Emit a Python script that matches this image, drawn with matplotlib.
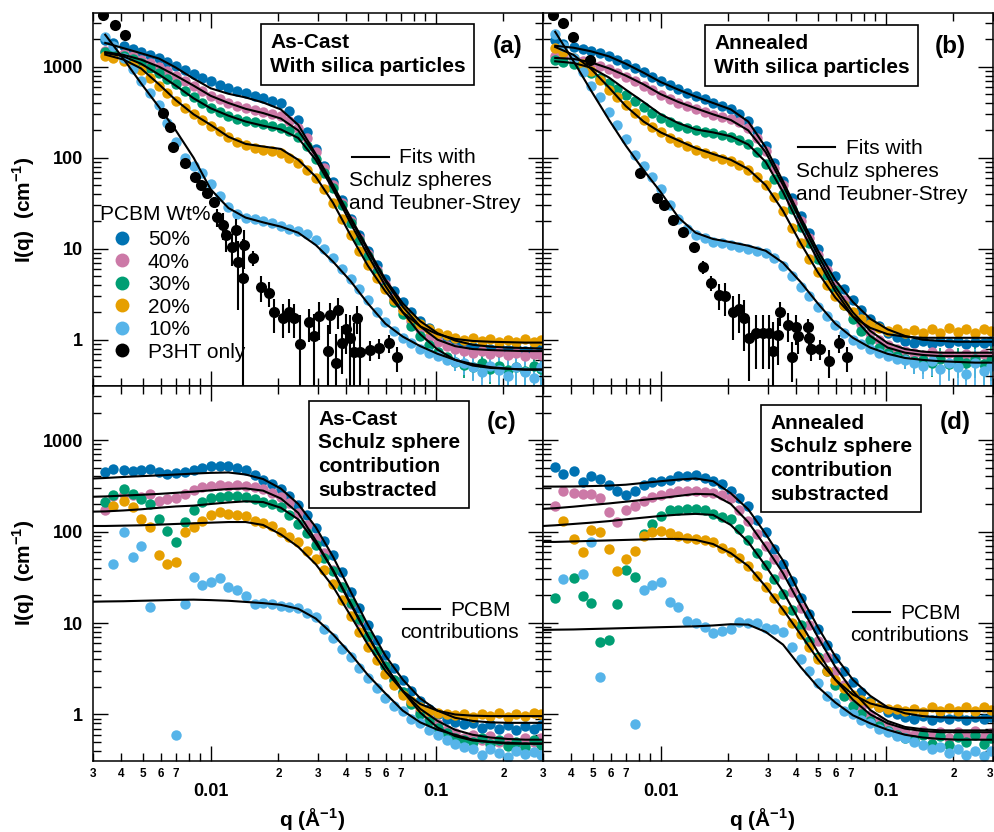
import numpy as np
import matplotlib
matplotlib.use("Agg")
import matplotlib.pyplot as plt
from matplotlib.lines import Line2D
from matplotlib.ticker import LogLocator, NullFormatter

plt.rcParams['font.family'] = ['Liberation Sans', 'DejaVu Sans']
plt.rcParams['mathtext.fontset'] = 'custom'
plt.rcParams['mathtext.rm'] = 'Liberation Sans'
plt.rcParams['mathtext.bf'] = 'Liberation Sans:bold'

nan = np.nan

# ---- common q grids ----
Q = [0.0034, 0.0037, 0.0041, 0.0045, 0.0049, 0.0054, 0.0059, 0.0064, 0.0070, 0.0077,
     0.0084, 0.0092, 0.0100, 0.0110, 0.0120, 0.0131, 0.0143, 0.0157, 0.0171, 0.0187,
     0.0205, 0.0224, 0.0245, 0.0268, 0.0293, 0.0320, 0.0350, 0.0383, 0.0419, 0.0458,
     0.0500, 0.0547, 0.0598, 0.0654, 0.0715, 0.0781, 0.0854, 0.0934, 0.102, 0.112,
     0.122, 0.134, 0.146, 0.160, 0.175, 0.191, 0.209, 0.228, 0.250, 0.273, 0.295]
Q_FIT = [0.0034, 0.0041, 0.0049, 0.0059, 0.0070, 0.0084, 0.0100, 0.0120, 0.0143, 0.0171,
         0.0205, 0.0245, 0.0293, 0.0350, 0.0419, 0.0500, 0.0598, 0.0715, 0.0854, 0.102,
         0.122, 0.146, 0.175, 0.209, 0.250, 0.295]
Q_FIT_CD = [0.0030, 0.0034, 0.0041, 0.0049, 0.0059, 0.0070, 0.0084, 0.0100, 0.0120, 0.0143,
            0.0171, 0.0205, 0.0245, 0.0293, 0.0350, 0.0419, 0.0500, 0.0598, 0.0715, 0.0854,
            0.102, 0.122, 0.146, 0.175, 0.209, 0.250, 0.295]
# high-q points that carry visible error bars in (a) and (b)
Q_TAIL = [0.122, 0.134, 0.146, 0.160, 0.175, 0.191, 0.209, 0.228, 0.250, 0.273, 0.295]

# ---- (a) as-cast with silica ----
A50 = [1980, 1830, 1700, 1560, 1460, 1350, 1250, 1130, 1030, 930,
       840, 760, 690, 630, 580, 545, 510, 480, 450, 425,
       395, 330, 260, 190, 125, 82, 54, 34, 21, 14,
       9.5, 6.6, 4.7, 3.4, 2.6, 2.0, 1.6, 1.35, 1.15, 1.02,
       0.95, 0.88, 0.84, 0.86, 0.80, 0.84, 0.78, 0.82, 0.76, 0.80, 0.79]
A40 = [1500, 1450, 1380, 1300, 1200, 1100, 1000, 900, 800, 700,
       620, 540, 480, 440, 400, 375, 355, 335, 320, 305,
       285, 255, 215, 165, 115, 78, 50, 32, 20, 13,
       8.8, 5.9, 4.1, 2.9, 2.1, 1.6, 1.3, 1.08, 0.94, 0.85,
       0.80, 0.76, 0.72, 0.75, 0.70, 0.73, 0.68, 0.72, 0.66, 0.70, 0.68]
A30 = [1450, 1400, 1320, 1230, 1100, 980, 850, 740, 640, 540,
       460, 400, 355, 320, 290, 270, 255, 245, 235, 225,
       210, 195, 168, 135, 98, 68, 46, 30, 19, 12.5,
       8.3, 5.6, 3.8, 2.6, 1.9, 1.4, 1.1, 0.88, 0.74, 0.64,
       0.57, 0.53, 0.50, 0.55, 0.48, 0.52, 0.47, 0.50, 0.45, 0.52, 0.48]
A20 = [1300, 1260, 1160, 1050, 920, 760, 620, 510, 420, 350,
       300, 260, 225, 195, 170, 150, 138, 128, 122, 118,
       112, 100, 88, 74, 60, 45, 32, 21, 14, 9.5,
       6.6, 4.8, 3.6, 2.7, 2.1, 1.75, 1.5, 1.3, 1.2, 1.12,
       1.05, 1.0, 1.04, 0.96, 1.02, 0.95, 1.0, 0.94, 1.02, 0.95, 1.0]
A10 = [2100, 1700, 1250, 950, 700, 520, 380, 240, 150, 100,
       82, 68, 52, 38, 29, 24, 22, 21, 20, 19,
       18, 16.5, 15.5, 14.5, 12.5, 10, 8, 6, 4.6, 3.6,
       2.7, 2.0, 1.55, 1.25, 1.05, 0.92, 0.80, 0.72, 0.66, 0.60,
       0.57, 0.55, 0.50, 0.44, 0.52, 0.46, 0.40, 0.50, 0.44, 0.38, 0.50]
A30_TAIL_ERR = [0.12, 0.15, 0.14, 0.18, 0.15, 0.2, 0.16, 0.2, 0.17, 0.22, 0.2]
A10_TAIL_ERR = [0.12, 0.14, 0.15, 0.16, 0.18, 0.17, 0.2, 0.2, 0.22, 0.2, 0.24]
A50_FIT = [1830, 1600, 1410, 1230, 980, 740, 580, 505, 460, 405, 340, 230, 110,
           50, 22, 10, 4.6, 2.5, 1.6, 1.18, 0.98, 0.88, 0.84, 0.82, 0.81, 0.80]
A40_FIT = [1450, 1350, 1200, 1000, 800, 620, 480, 400, 345, 310, 270, 200, 105,
           48, 21, 9.5, 4.4, 2.3, 1.4, 1.0, 0.85, 0.79, 0.77, 0.76, 0.75, 0.75]
A30_FIT = [1420, 1300, 1080, 820, 620, 450, 350, 290, 250, 225, 205, 165, 95,
           45, 19, 8.5, 3.9, 2.0, 1.15, 0.78, 0.60, 0.52, 0.49, 0.48, 0.47, 0.47]
A20_FIT = [1360, 1200, 960, 640, 430, 300, 230, 170, 142, 133, 125, 95, 62,
           32, 14, 6.5, 3.4, 2.0, 1.4, 1.15, 1.02, 0.97, 0.95, 0.94, 0.93, 0.93]
A10_FIT = [2250, 1220, 660, 360, 200, 100, 45, 28, 22, 19.5, 17.5, 15, 11,
           7.2, 4.4, 2.5, 1.5, 1.08, 0.85, 0.70, 0.60, 0.54, 0.50, 0.48, 0.47, 0.47]
A_P3HT_Q = [0.00333, 0.00376, 0.00417, 0.00616, 0.00662, 0.00683, 0.00773, 0.0085, 0.0091, 0.00968,
            0.0103, 0.0107, 0.0113, 0.0117, 0.0125, 0.0129, 0.0132, 0.0139, 0.0140, 0.0155,
            0.0167, 0.0181, 0.0191, 0.0209, 0.0223, 0.0235, 0.0249, 0.0274, 0.0288, 0.0303,
            0.0333, 0.0340, 0.0361, 0.0369, 0.0384, 0.0400, 0.0418, 0.0435, 0.0449, 0.0463,
            0.0512, 0.0562, 0.0622, 0.0676]
A_P3HT_I = [3730, 2890, 2250, 312, 219, 132, 88, 62, 50, 41,
            33, 22.5, 18.4, 14.2, 10.5, 16.2, 7.1, 4.8, 11, 8.0,
            3.8, 3.3, 2.0, 1.75, 2.0, 1.75, 0.89, 1.55, 1.1, 1.8,
            0.75, 1.86, 0.56, 2.1, 0.92, 1.3, 1.05, 0.73, 1.75, 0.73,
            0.78, 0.81, 0.92, 0.64]
A_P3HT_ERR = [0, 0, 0, 0, 0, 0, 0, 0, 0, 3,
              4, 5, 6, 5, 4, 5, 5, 8, 5, 1.5,
              1.2, 1.0, 0.8, 0.7, 0.8, 0.7, 1.0, 0.6, 0.8, 0.8,
              0.7, 0.7, 0.6, 0.8, 0.5, 0.6, 0.8, 0.8, 0.6, 0.8,
              0.2, 0.2, 0.2, 0.2]

# ---- (b) annealed with silica ----
B50 = [1980, 1800, 1660, 1560, 1480, 1400, 1300, 1180, 1080, 970,
       870, 780, 700, 630, 570, 520, 480, 440, 400, 370,
       340, 305, 255, 195, 135, 88, 56, 36, 23, 15,
       10, 7.0, 5.0, 3.6, 2.7, 2.1, 1.7, 1.4, 1.2, 1.08,
       0.98, 0.93, 0.97, 0.90, 0.96, 0.92, 0.98, 0.90, 0.95, 0.93, 0.96]
B40 = [1300, 1270, 1230, 1170, 1100, 1020, 940, 860, 780, 700,
       620, 550, 490, 440, 400, 370, 340, 315, 295, 280,
       265, 245, 210, 165, 118, 78, 50, 32, 20, 13,
       8.6, 5.8, 3.9, 2.7, 1.95, 1.5, 1.2, 1.0, 0.88, 0.80,
       0.76, 0.72, 0.68, 0.74, 0.66, 0.72, 0.65, 0.70, 0.64, 0.70, 0.66]
B30 = [1190, 1140, 1060, 960, 860, 760, 660, 570, 490, 420,
       360, 310, 275, 245, 225, 210, 200, 192, 185, 178,
       170, 158, 140, 115, 85, 58, 40, 27, 17.5, 11.5,
       7.8, 5.2, 3.5, 2.4, 1.7, 1.25, 1.0, 0.82, 0.72, 0.66,
       0.62, 0.58, 0.60, 0.55, 0.62, 0.54, 0.60, 0.55, 0.62, 0.54, 0.60]
B20 = [1620, 1450, 1250, 1080, 900, 720, 560, 460, 380, 310,
       260, 220, 190, 165, 150, 135, 122, 112, 104, 98,
       92, 84, 74, 62, 50, 37, 26, 17, 11.5, 7.8,
       5.5, 4.0, 3.0, 2.4, 2.0, 1.7, 1.5, 1.35, 1.25, 1.30,
       1.20, 1.28, 1.18, 1.30, 1.20, 1.35, 1.22, 1.30, 1.18, 1.32, 1.25]
B10 = [2300, 1700, 1250, 880, 620, 470, 320, 230, 160, 108,
       82, 62, 45, 30, 21, 16.5, 14, 13, 12, 11.5,
       11, 10.5, 10, 9.5, 9, 8, 6.5, 5, 3.8, 3.0,
       2.3, 1.8, 1.45, 1.2, 1.0, 0.90, 0.80, 0.72, 0.66, 0.62,
       0.60, 0.56, 0.52, 0.58, 0.48, 0.55, 0.50, 0.42, 0.55, 0.45, 0.52]
B30_TAIL_ERR = [0.14, 0.16, 0.18, 0.16, 0.2, 0.18, 0.22, 0.2, 0.24, 0.22, 0.25]
B10_TAIL_ERR = [0.12, 0.14, 0.15, 0.18, 0.16, 0.2, 0.2, 0.18, 0.24, 0.22, 0.24]
B50_FIT = [1700, 1620, 1480, 1300, 1080, 860, 680, 560, 470, 400, 340, 250, 130,
           55, 22, 9.5, 4.5, 2.6, 1.7, 1.3, 1.1, 1.0, 0.97, 0.95, 0.95, 0.95]
B40_FIT = [1250, 1220, 1120, 960, 800, 640, 500, 410, 350, 300, 260, 200, 115,
           50, 20, 8.5, 3.8, 2.0, 1.25, 0.92, 0.79, 0.74, 0.72, 0.72, 0.72, 0.72]
B30_FIT = [1150, 1100, 980, 760, 560, 410, 300, 240, 205, 190, 172, 140, 90,
           42, 17, 7.5, 3.4, 1.8, 1.1, 0.82, 0.72, 0.68, 0.66, 0.66, 0.66, 0.66]
B20_FIT = [1650, 1350, 950, 590, 370, 250, 190, 155, 128, 110, 95, 75, 50,
           26, 11.5, 5.5, 2.9, 1.8, 1.35, 1.15, 1.08, 1.05, 1.05, 1.05, 1.05, 1.05]
B10_FIT = [2420, 1150, 550, 260, 136, 73, 42, 22, 15, 12.8, 11.8, 10.8, 9.5,
           7.0, 4.3, 2.5, 1.5, 1.05, 0.82, 0.70, 0.63, 0.60, 0.58, 0.57, 0.56, 0.56]
B_P3HT_Q = [0.00333, 0.00369, 0.00408, 0.00486, 0.00813, 0.00968, 0.0103, 0.0114, 0.0126, 0.0140,
            0.0154, 0.0167, 0.0181, 0.0194, 0.0209, 0.0223, 0.0235, 0.0247, 0.0264, 0.0284,
            0.0303, 0.0315, 0.0333, 0.0340, 0.0369, 0.0384, 0.0400, 0.0409, 0.0453, 0.0458,
            0.0466, 0.0512, 0.0562, 0.0622, 0.0676]
B_P3HT_I = [3730, 3050, 2130, 1190, 68, 36.5, 30, 20.9, 15.3, 10.5,
            6.3, 4.2, 3.1, 3.0, 2.0, 2.2, 1.75, 1.05, 1.18, 1.18,
            1.18, 0.75, 1.13, 2.0, 1.45, 0.64, 1.37, 1.1, 1.37, 1.05,
            0.79, 0.80, 0.58, 0.92, 0.64]
B_P3HT_ERR = [0, 0, 0, 0, 0, 0, 0, 0, 0, 0,
              1.0, 0.8, 1.0, 1.2, 1.0, 1.0, 1.0, 0.7, 0.7, 0.7,
              0.7, 0.8, 0.6, 0.6, 0.5, 0.3, 0.5, 0.4, 0.3, 0.3,
              0.2, 0.2, 0.2, 0.2, 0.2]

# ---- (c) as-cast, Schulz sphere contribution substracted ----
C50 = [450, 480, 470, 460, 465, 480, 450, 430, 435, 450,
       470, 500, 515, 525, 520, 500, 470, 420, 370, 330,
       290, 245, 195, 150, 108, 78, 55, 36, 22, 14.5,
       9.5, 6.5, 4.5, 3.2, 2.4, 1.8, 1.4, 1.15, 1.0, 0.90,
       0.82, 0.78, 0.80, 0.72, 0.78, 0.70, 0.76, 0.68, 0.74, 0.70, 0.76]
C40 = [170, 245, 255, 250, 240, 255, 215, 225, 235, 260,
       285, 305, 315, 320, 318, 320, 318, 305, 290, 265,
       240, 205, 160, 118, 85, 58, 38, 25, 16, 10.5,
       7.0, 4.8, 3.4, 2.4, 1.75, 1.35, 1.08, 0.90, 0.78, 0.68,
       0.62, 0.56, 0.60, 0.52, 0.58, 0.50, 0.56, 0.48, 0.55, 0.50, 0.55]
C30 = [210, 250, 295, 260, 225, 202, 138, 101, 77, 127,
       170, 212, 230, 241, 247, 244, 238, 228, 212, 198,
       185, 150, 122, 96, 72, 52, 37, 25, 16.5, 11,
       7.3, 4.9, 3.4, 2.4, 1.75, 1.3, 1.02, 0.84, 0.72, 0.62,
       0.56, 0.52, 0.50, 0.55, 0.47, 0.52, 0.45, 0.50, 0.44, 0.52, 0.46]
C20 = [nan, 191, 217, 187, 138, 112, 56, 44, 46, 99,
       112, 131, 150, 164, 156, 152, 149, 131, 123, 115,
       99, 88, 77, 62, 50, 38, 27, 18, 12, 8.0,
       5.5, 3.9, 2.8, 2.1, 1.65, 1.4, 1.22, 1.1, 1.05, 1.0,
       0.98, 1.02, 0.95, 1.0, 0.96, 1.04, 0.95, 1.02, 0.97, 1.05, 1.0]
C10 = [nan, 44, 99, 53, 70, 15, nan, nan, 0.6, 16,
       32, 26, 28, 31, 25, 23, 19.5, 16, 16.5, 16,
       15.5, 15, 14.5, 13, 11.5, 8.6, 6.8, 5.2, 4.2, 3.2,
       2.5, 1.95, 1.5, 1.25, 1.08, 0.90, 0.80, 0.68, 0.60, 0.52,
       0.47, 0.44, 0.42, 0.36, 0.42, 0.38, 0.34, 0.40, 0.37, 0.39, 0.36]
C50_FIT = [380, 385, 395, 403, 411, 420, 430, 438, 442, 420, 375, 295, 200, 112,
           53, 22, 9.5, 4.4, 2.4, 1.5, 1.1, 0.92, 0.85, 0.82, 0.81, 0.81, 0.81]
C40_FIT = [240, 242, 247, 252, 258, 265, 273, 282, 292, 296, 280, 230, 160, 80,
           37, 16, 7.2, 3.4, 1.8, 1.15, 0.85, 0.68, 0.60, 0.56, 0.54, 0.53, 0.53]
C30_FIT = [165, 166, 170, 175, 182, 188, 192, 200, 208, 214, 210, 182, 136, 75,
           38, 16.5, 7.3, 3.4, 1.8, 1.05, 0.72, 0.58, 0.52, 0.50, 0.48, 0.48, 0.48]
C20_FIT = [115, 115, 116, 117, 119, 121, 123, 125, 127, 127, 118, 93, 68, 44,
           25, 12, 5.8, 3.0, 1.8, 1.3, 1.1, 1.0, 0.97, 0.96, 0.96, 0.96, 0.96]
C10_FIT = [17.1, 17.2, 17.3, 17.5, 17.7, 17.9, 18.0, 17.8, 17.5, 17.0, 16.5, 15.8, 14.3, 11.2,
           7.5, 4.6, 2.7, 1.7, 1.1, 0.82, 0.68, 0.60, 0.53, 0.50, 0.49, 0.48, 0.48]

# ---- (d) annealed, Schulz sphere contribution substracted ----
D50 = [510, 430, 460, 350, 400, 380, 320, 275, 250, 280,
       320, 350, 355, 362, 400, 408, 411, 385, 360, 330,
       275, 235, 191, 135, 100, 65, 44, 29, 19, 12.5,
       8.5, 5.8, 4.1, 3.0, 2.25, 1.75, 1.4, 1.2, 1.06, 1.0,
       0.94, 0.90, 0.96, 0.88, 0.94, 0.90, 0.97, 0.88, 0.95, 0.90, 0.94]
D40 = [190, 280, 262, 258, 255, 230, 164, 127, 170, 191,
       217, 241, 252, 262, 275, 280, 278, 273, 262, 250,
       232, 170, 130, 95, 70, 50, 34, 22, 14.5, 9.5,
       6.4, 4.3, 3.0, 2.1, 1.55, 1.2, 0.98, 0.84, 0.74, 0.68,
       0.64, 0.60, 0.66, 0.58, 0.65, 0.56, 0.64, 0.58, 0.66, 0.57, 0.63]
D30 = [19, nan, 31, 19.5, 16.5, 6.2, 6.6, 16, 38, 32,
       94, 122, 148, 170, 174, 177, 175, 170, 156, 146,
       138, 107, 80, 58, 43, 30, 21, 14, 9.5, 6.3,
       4.3, 3.0, 2.1, 1.6, 1.25, 1.0, 0.85, 0.74, 0.66, 0.60,
       0.56, 0.52, 0.60, 0.48, 0.58, 0.46, 0.57, 0.50, 0.60, 0.47, 0.55]
D20 = [nan, 130, 83, 59, 105, 100, 64, 37, 50, 61,
       89, 99, 101, 97, 89, 86, 83, 80, 77, 66,
       60, 52, 42, 33, 25, 19, 14, 10, 7.5, 5.5,
       4.0, 3.0, 2.4, 1.95, 1.65, 1.45, 1.32, 1.22, 1.16, 1.14,
       1.08, 1.15, 1.06, 1.20, 1.10, 1.18, 1.08, 1.20, 1.10, 1.22, 1.12]
D10 = [nan, 30, nan, 34, 77, 2.6, nan, nan, nan, 0.79,
       23, 26, 28, 17, 15, 10.5, 10, 9.0, 7.8, 8.2,
       8.5, 10.2, 10, 10, 8.9, 8.5, 8.0, 5.5, 4.0, 3.0,
       2.2, 1.6, 1.35, 1.1, 1.0, 0.88, 0.80, 0.70, 0.64, 0.58,
       0.55, 0.50, 0.46, 0.42, 0.44, 0.38, 0.42, 0.36, 0.40, 0.35, 0.40]
D50_FIT = [310, 310, 311, 314, 318, 325, 340, 355, 370, 380, 355, 262, 175, 94,
           48, 20, 9.0, 4.3, 2.4, 1.6, 1.2, 1.03, 0.96, 0.93, 0.92, 0.92, 0.92]
D40_FIT = [177, 180, 187, 195, 203, 212, 222, 232, 245, 258, 255, 200, 127, 68,
           35, 15.5, 7.0, 3.3, 1.8, 1.12, 0.85, 0.73, 0.69, 0.67, 0.67, 0.67, 0.67]
D30_FIT = [115, 117, 121, 125, 130, 136, 142, 148, 153, 156, 152, 118, 77, 42,
           22, 10, 4.8, 2.4, 1.45, 1.0, 0.80, 0.70, 0.66, 0.64, 0.64, 0.64, 0.64]
D20_FIT = [77, 77, 78, 79, 80, 81, 82, 83, 83, 81, 73, 58, 42, 25,
           14, 7.5, 4.0, 2.4, 1.65, 1.32, 1.18, 1.12, 1.10, 1.09, 1.09, 1.09, 1.09]
D10_FIT = [8.4, 8.45, 8.5, 8.6, 8.7, 8.8, 8.9, 9.0, 9.1, 9.2, 9.4, 9.7, 9.6, 8.0,
           5.8, 3.3, 2.0, 1.35, 0.98, 0.80, 0.68, 0.60, 0.56, 0.54, 0.53, 0.53, 0.53]

COLORS = ['#0072B2', '#CC79A7', '#009E73', '#E69F00', '#56B4E9']
LEGEND_LABELS = ['50%', '40%', '30%', '20%', '10%', 'P3HT only']

X_MAJOR = [0.01, 0.1]
X_MAJOR_LABELS = ['0.01', '0.1']
X_MINOR = [0.003, 0.004, 0.005, 0.006, 0.007, 0.008, 0.009,
           0.02, 0.03, 0.04, 0.05, 0.06, 0.07, 0.08, 0.09, 0.2, 0.3]
X_MINOR_LABELS = ['3', '4', '5', '6', '7', '', '',
                  '2', '3', '4', '5', '6', '7', '', '', '2', '3']
Y_MAJOR = [1, 10, 100, 1000]
Y_MAJOR_LABELS = ['1', '10', '100', '1000']

W, H = 994, 832
fig = plt.figure(figsize=(W / 100, H / 100), dpi=100)


def px_axes(x0, y0, x1, y1):
    return fig.add_axes([x0 / W, 1 - y1 / H, (x1 - x0) / W, (y1 - y0) / H])


def ftext(x, y, s, **kw):
    return fig.text(x / W, 1 - y / H, s, **kw)


def style(ax, bottom, left):
    ax.set_xscale('log')
    ax.set_yscale('log')
    ax.set_xticks(X_MAJOR, X_MAJOR_LABELS if bottom else [''] * 2,
                  fontsize=13, fontweight='bold')
    minor_labels = list(X_MINOR_LABELS) if bottom else [''] * len(X_MINOR)
    if not left:
        minor_labels[0] = ''
    ax.set_xticks(X_MINOR, minor_labels, minor=True, fontsize=8.5, fontweight='bold')
    ax.set_yticks(Y_MAJOR, Y_MAJOR_LABELS if left else [''] * 4,
                  fontsize=13, fontweight='bold')
    ax.yaxis.set_minor_locator(LogLocator(base=10, subs=(2, 3, 4, 5, 6, 7, 8, 9)))
    ax.yaxis.set_minor_formatter(NullFormatter())
    ax.set_xlim(0.003, 0.3)
    ax.set_ylim(0.31, 3900)
    ax.tick_params(which='both', direction='in', top=True, right=True, width=1)
    ax.tick_params(which='major', length=11)
    ax.tick_params(which='minor', length=5.5)
    ax.tick_params(axis='x', which='major', pad=15.5)
    ax.tick_params(axis='x', which='minor', pad=5)
    ax.tick_params(axis='y', which='major', pad=7)
    for sp in ax.spines.values():
        sp.set_linewidth(1.1)


def draw(ax, series, fits, q_fit):
    for color, vals in zip(COLORS, series):
        ax.plot(Q, vals, 'o', color=color, ms=7.5, mew=0, zorder=2)
    for vals in fits:
        ax.plot(q_fit, vals, '-', color='black', lw=1.5, zorder=4)


def tail_errors(ax, color, vals, err):
    ax.errorbar(Q_TAIL, vals[-len(Q_TAIL):], yerr=err, fmt='none', ecolor=color,
                elinewidth=1.3, capsize=0, zorder=1.5)


ax_a = px_axes(93, 13, 543, 386)
ax_b = px_axes(543, 13, 993, 386)
ax_c = px_axes(93, 386, 543, 761)
ax_d = px_axes(543, 386, 993, 761)

tail_errors(ax_a, COLORS[2], A30, A30_TAIL_ERR)
tail_errors(ax_a, COLORS[4], A10, A10_TAIL_ERR)
tail_errors(ax_b, COLORS[2], B30, B30_TAIL_ERR)
tail_errors(ax_b, COLORS[4], B10, B10_TAIL_ERR)
draw(ax_a, [A50, A40, A30, A20, A10], [A50_FIT, A40_FIT, A30_FIT, A20_FIT, A10_FIT], Q_FIT)
ax_a.errorbar(A_P3HT_Q, A_P3HT_I, yerr=A_P3HT_ERR, fmt='o', color='black', ms=8,
              mew=0, elinewidth=1.5, capsize=0, zorder=3)
draw(ax_b, [B50, B40, B30, B20, B10], [B50_FIT, B40_FIT, B30_FIT, B20_FIT, B10_FIT], Q_FIT)
ax_b.errorbar(B_P3HT_Q, B_P3HT_I, yerr=B_P3HT_ERR, fmt='o', color='black', ms=8,
              mew=0, elinewidth=1.5, capsize=0, zorder=3)
draw(ax_c, [C50, C40, C30, C20, C10], [C50_FIT, C40_FIT, C30_FIT, C20_FIT, C10_FIT], Q_FIT_CD)
draw(ax_d, [D50, D40, D30, D20, D10], [D50_FIT, D40_FIT, D30_FIT, D20_FIT, D10_FIT], Q_FIT_CD)

style(ax_a, bottom=False, left=True)
style(ax_b, bottom=False, left=False)
style(ax_c, bottom=True, left=True)
style(ax_d, bottom=True, left=False)
# keep the last minor label of the right panel inside the figure
ax_d.get_xticklabels(minor=True)[-1].set_horizontalalignment('right')

# legend in panel (a)
handles = [Line2D([], [], ls='none', marker='o', ms=10, mew=0, color=c) for c in COLORS]
handles.append(Line2D([], [], ls='none', marker='o', ms=10, mew=0, color='black'))
ftext(100, 220, 'PCBM Wt%', fontsize=15, va='baseline')
ax_a.legend(handles, LEGEND_LABELS, loc='upper left',
            bbox_to_anchor=(100 / W, 1 - 230 / H), bbox_transform=fig.transFigure,
            frameon=False, fontsize=15, borderpad=0, borderaxespad=0,
            handlelength=2.1, handletextpad=0.2, labelspacing=0.17)

# boxed panel titles
box = dict(boxstyle='square,pad=0.42', fc='white', ec='black', lw=1.2)
ftext(270, 33, 'As-Cast\nWith silica particles', fontsize=15, fontweight='bold',
      va='top', ha='left', bbox=box, linespacing=1.32, zorder=10)
ftext(714, 34, 'Annealed\nWith silica particles', fontsize=15, fontweight='bold',
      va='top', ha='left', bbox=box, linespacing=1.32, zorder=10)
ftext(318, 410, 'As-Cast\nSchulz sphere\ncontribution\nsubstracted', fontsize=15,
      fontweight='bold', va='top', ha='left', bbox=box, linespacing=1.3, zorder=10)
ftext(770, 414, 'Annealed\nSchulz sphere\ncontribution\nsubstracted', fontsize=15,
      fontweight='bold', va='top', ha='left', bbox=box, linespacing=1.3, zorder=10)

for x, y, s in [(508, 47, '(a)'), (950, 47, '(b)'), (502, 422, '(c)'), (955, 423, '(d)')]:
    ftext(x, y, s, fontsize=17.5, fontweight='bold', ha='center', va='center')

# fit annotations
for x0, y0 in [(352, 157), (798, 147), (403, 609), (853, 612)]:
    fig.add_artist(Line2D([x0 / W, (x0 + 37) / W], [1 - y0 / H, 1 - y0 / H],
                          transform=fig.transFigure, color='black', lw=1.5))
ftext(399, 163, 'Fits with', fontsize=15, va='baseline')
ftext(349, 186, 'Schulz spheres', fontsize=15, va='baseline')
ftext(349, 209, 'and Teubner-Strey', fontsize=15, va='baseline')
ftext(846, 154, 'Fits with', fontsize=15, va='baseline')
ftext(796, 177, 'Schulz spheres', fontsize=15, va='baseline')
ftext(796, 200, 'and Teubner-Strey', fontsize=15, va='baseline')
ftext(450, 616, 'PCBM', fontsize=15, va='baseline')
ftext(400, 638, 'contributions', fontsize=15, va='baseline')
ftext(900, 619, 'PCBM', fontsize=15, va='baseline')
ftext(850, 641, 'contributions', fontsize=15, va='baseline')

# axis labels
ylab = r'I(q)  (cm$^{\mathbf{-1}}$)'
ftext(24, 210, ylab, fontsize=15, fontweight='bold', rotation=90, ha='center', va='center')
ftext(24, 573, ylab, fontsize=15, fontweight='bold', rotation=90, ha='center', va='center')
xlab = r'q (Å$^{\mathbf{-1}}$)'
ftext(312, 820, xlab, fontsize=15, fontweight='bold', ha='center', va='center')
ftext(762, 820, xlab, fontsize=15, fontweight='bold', ha='center', va='center')

fig.savefig('out.png', dpi=100)
